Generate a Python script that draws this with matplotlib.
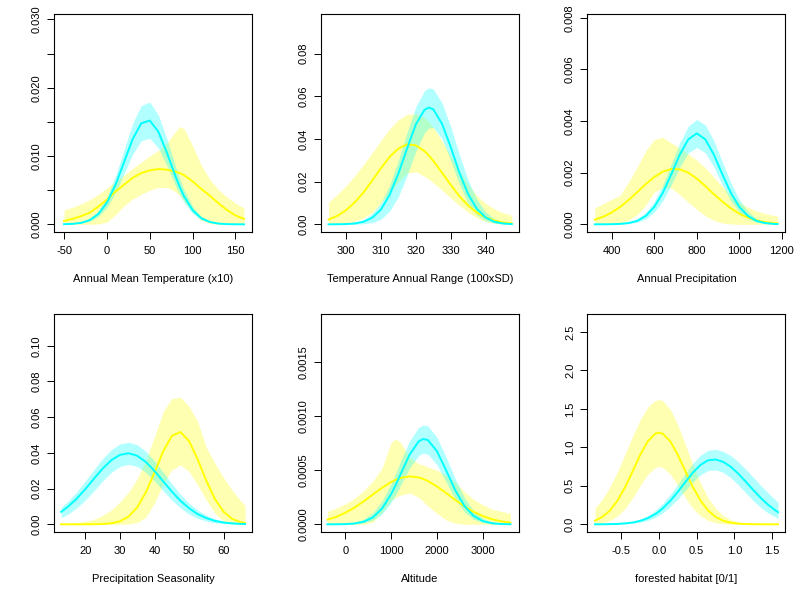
import matplotlib
matplotlib.use("Agg")
import matplotlib.pyplot as plt

plt.rcParams['font.family'] = ['Liberation Sans', 'DejaVu Sans']

# ---------------- data ----------------
# Panel 1: Annual Mean Temperature (x10)
p1_x = [-50, -40, -30, -20, -10, 0, 10, 20, 30, 40, 50, 60, 70, 80, 85, 90, 100, 110, 120, 130, 140, 150, 160]
p1_cyan_mid = [0.00002, 0.00007, 0.00022, 0.00062, 0.00151, 0.00318, 0.00577, 0.0091, 0.01245, 0.01478, 0.0152,
               0.01357, 0.0105, 0.00705, 0.00548, 0.00412, 0.00207, 0.0009, 0.00035, 0.00011, 0.00003, 0.00001, 0.0]
p1_cyan_hi = [0.00003, 0.0001, 0.00031, 0.00083, 0.00195, 0.00396, 0.00704, 0.0109, 0.01476, 0.0174, 0.0179,
              0.016, 0.01253, 0.00855, 0.00668, 0.00508, 0.00263, 0.00119, 0.00047, 0.00016, 0.00005, 0.00001, 0.0]
p1_cyan_lo = [0.00001, 0.00005, 0.00016, 0.00046, 0.00115, 0.00246, 0.00463, 0.00739, 0.01025, 0.01224, 0.01261,
              0.0112, 0.00859, 0.00568, 0.00437, 0.00325, 0.00159, 0.00067, 0.00025, 0.00008, 0.00002, 0.0, 0.0]
p1_yel_mid = [0.00049, 0.0008, 0.0012, 0.0017, 0.0026, 0.0036, 0.0048, 0.0058, 0.0068, 0.0075, 0.0079,
              0.0081, 0.0080, 0.0077, 0.0075, 0.0072, 0.0063, 0.0052, 0.0042, 0.0031, 0.0021, 0.0013, 0.0008]
p1_yel_hi = [0.0021, 0.0025, 0.0030, 0.0036, 0.0044, 0.0053, 0.0063, 0.0072, 0.0082, 0.0091, 0.0100,
             0.0108, 0.0119, 0.0136, 0.0143, 0.0140, 0.0115, 0.0087, 0.0066, 0.0051, 0.0040, 0.0031, 0.0024]
p1_yel_lo = [0, 0, 0, 0, 0.00005, 0.0003, 0.0014, 0.0027, 0.0037, 0.0044, 0.0050,
             0.0054, 0.0054, 0.0048, 0.0042, 0.0034, 0.0018, 0.0006, 0.0001, 0, 0, 0, 0]

# Panel 2: Temperature Annual Range (100xSD)
p2_x = [295, 297.5, 300, 302.5, 305, 307.5, 310, 312.5, 315, 317.5, 320, 322.5, 323.75, 325, 327.5, 330, 332.5,
        335, 337.5, 340, 342.5, 345, 347.5]
p2_cyan_mid = [0.0, 0.00003, 0.00012, 0.0004, 0.0012, 0.0031, 0.0069, 0.0138, 0.0238, 0.0356, 0.0468, 0.0537,
               0.0547, 0.0539, 0.0471, 0.0362, 0.0241, 0.0141, 0.0072, 0.0032, 0.0012, 0.0004, 0.0001]
p2_cyan_hi = [0.00002, 0.00009, 0.00029, 0.00083, 0.0022, 0.0050, 0.0101, 0.0184, 0.0300, 0.0431, 0.0551, 0.0627,
              0.0640, 0.0634, 0.0570, 0.0457, 0.0326, 0.0205, 0.0116, 0.0058, 0.0026, 0.0010, 0.0004]
p2_cyan_lo = [0.0, 0.0, 0.00001, 0.00005, 0.00023, 0.00083, 0.0024, 0.0062, 0.0130, 0.0230, 0.0343, 0.0430,
              0.0451, 0.0454, 0.0401, 0.0299, 0.0187, 0.0098, 0.0043, 0.0016, 0.0005, 0.00013, 0.00003]
p2_yel_mid = [0.0022, 0.0040, 0.0066, 0.0103, 0.0149, 0.0205, 0.0263, 0.0316, 0.0355, 0.0375, 0.0370, 0.0343,
              0.0322, 0.0297, 0.0242, 0.0185, 0.0131, 0.0088, 0.0055, 0.0033, 0.0018, 0.0009, 0.0004]
p2_yel_hi = [0.0104, 0.0140, 0.0180, 0.0228, 0.0280, 0.0335, 0.0393, 0.0447, 0.0490, 0.0515, 0.0518, 0.0500,
             0.0480, 0.0455, 0.0390, 0.0320, 0.0250, 0.0185, 0.0135, 0.0098, 0.0072, 0.0054, 0.0042]
p2_yel_lo = [0.0, 0.0002, 0.0006, 0.0015, 0.0030, 0.0055, 0.0100, 0.0150, 0.0200, 0.0240, 0.0246, 0.0225,
             0.0210, 0.0195, 0.0160, 0.0123, 0.0088, 0.0057, 0.0030, 0.0013, 0.0004, 0.0001, 0.0]

# Panel 3: Annual Precipitation
p3_x = [320, 360, 400, 440, 480, 520, 560, 600, 640, 680, 720, 760, 800, 840, 880, 920, 960, 1000, 1040,
        1080, 1120, 1160, 1180]
p3_cyan_mid = [0.0, 0.0000012, 0.0000046, 0.000017, 0.000051, 0.000136, 0.000326, 0.000673, 0.00122, 0.00194,
               0.0027, 0.00329, 0.00352, 0.00329, 0.0027, 0.00194, 0.00122, 0.000673, 0.000326, 0.000136,
               0.000051, 0.000017, 0.0000092]
p3_cyan_hi = [0.0000007, 0.0000028, 0.0000097, 0.000031, 0.000086, 0.00021, 0.00046, 0.00089, 0.00153, 0.00234,
              0.00316, 0.0038, 0.00406, 0.00385, 0.00324, 0.00242, 0.00161, 0.00095, 0.0005, 0.00023,
              0.000095, 0.000035, 0.00002]
p3_cyan_lo = [0.0, 0.0, 0.0000018, 0.0000075, 0.000026, 0.00008, 0.00021, 0.00047, 0.00091, 0.00153,
              0.00222, 0.00277, 0.00298, 0.00277, 0.00222, 0.00153, 0.00091, 0.00047, 0.00021, 0.00008,
              0.000026, 0.0000075, 0.000004]
p3_yel_mid = [0.000179, 0.000295, 0.00046, 0.000677, 0.000946, 0.00125, 0.00156, 0.00183, 0.00204, 0.00214,
              0.00213, 0.002, 0.00177, 0.00148, 0.00117, 0.00088, 0.00062, 0.00041, 0.00026, 0.00016,
              0.000088, 0.000046, 0.000033]
p3_yel_hi = [0.00064, 0.0008, 0.00097, 0.00113, 0.00165, 0.00222, 0.00285, 0.00328, 0.00337, 0.00315,
             0.00295, 0.00272, 0.00248, 0.00218, 0.00183, 0.00146, 0.00112, 0.00086, 0.00066, 0.00052,
             0.00042, 0.00035, 0.00032]
p3_yel_lo = [0, 0, 0.00002, 0.00006, 0.00016, 0.00038, 0.00075, 0.00125, 0.00142, 0.0014, 0.00115, 0.00085,
             0.00058, 0.00033, 0.00015, 0.00005, 0.00001, 0, 0, 0, 0, 0, 0]

# Panel 4: Precipitation Seasonality
p4_x = [13, 15, 17.5, 20, 22.5, 25, 27.5, 30, 32.5, 35, 37.5, 40, 42.5, 45, 47.5, 50, 52.5, 55, 57.5, 60,
        62.5, 65, 66.2]
p4_cyan_mid = [0.0070, 0.0099, 0.0144, 0.0197, 0.0256, 0.0312, 0.0359, 0.0389, 0.0398, 0.0384, 0.0349, 0.0299,
               0.0241, 0.0184, 0.0132, 0.0090, 0.0057, 0.0035, 0.0019, 0.0010, 0.00053, 0.00025, 0.00017]
p4_cyan_hi = [0.0094, 0.0130, 0.0182, 0.0243, 0.0307, 0.0368, 0.0418, 0.0450, 0.0460, 0.0445, 0.0408, 0.0355,
              0.0292, 0.0228, 0.0168, 0.0118, 0.0079, 0.0050, 0.0030, 0.0017, 0.0009, 0.00046, 0.00032]
p4_cyan_lo = [0.0037, 0.0057, 0.0092, 0.0136, 0.0188, 0.0243, 0.0291, 0.0324, 0.0336, 0.0324, 0.0291, 0.0243,
              0.0188, 0.0136, 0.0092, 0.0057, 0.0033, 0.0018, 0.0009, 0.00042, 0.00018, 0.00007, 0.00005]
p4_yel_mid = [0, 0, 0.0000017, 0.00001, 0.00004, 0.00017, 0.00058, 0.0017, 0.0043, 0.0095, 0.0179, 0.0290,
              0.0408, 0.0495, 0.0517, 0.0466, 0.0363, 0.0243, 0.0141, 0.0070, 0.0030, 0.0011, 0.00066]
p4_yel_hi = [0.0002, 0.0004, 0.0009, 0.0016, 0.0028, 0.0050, 0.0080, 0.0125, 0.0180, 0.0255, 0.0360, 0.0490,
             0.0630, 0.0705, 0.0712, 0.0660, 0.0575, 0.0430, 0.0340, 0.0260, 0.0190, 0.0130, 0.0105]
p4_yel_lo = [0, 0, 0, 0, 0, 0, 0, 0, 0.0002, 0.0010, 0.0040, 0.0120, 0.0225, 0.0305, 0.0333, 0.0295, 0.0220,
             0.0135, 0.0060, 0.0018, 0.0003, 0, 0]

# Panel 5: Altitude
p5_x = [-390, -200, 0, 200, 400, 600, 800, 1000, 1100, 1200, 1400, 1600, 1700, 1800, 2000, 2200, 2400, 2600,
        2800, 3000, 3200, 3400, 3600]
p5_cyan_mid = [0, 0.0000005, 0.0000021, 0.0000078, 0.000024, 0.000064, 0.000145, 0.00028, 0.000366, 0.00046,
               0.000644, 0.000768, 0.00079, 0.00078, 0.000676, 0.000498, 0.000313, 0.000168, 0.000077, 0.00003,
               0.0000099, 0.0000028, 0.0000007]
p5_cyan_hi = [0, 0.0000017, 0.0000057, 0.0000177, 0.000047, 0.000108, 0.000216, 0.000377, 0.000476, 0.000579,
              0.000772, 0.000898, 0.00092, 0.00091, 0.000804, 0.00062, 0.000416, 0.000244, 0.000124, 0.000055,
              0.0000215, 0.0000073, 0.0000021]
p5_cyan_lo = [0, 0, 0.0000008, 0.0000036, 0.0000128, 0.0000386, 0.0000966, 0.000204, 0.000275, 0.000357,
              0.000521, 0.000636, 0.00066, 0.000648, 0.00055, 0.00039, 0.000231, 0.000115, 0.0000467, 0.0000162,
              0.0000046, 0.0000011, 0]
p5_yel_mid = [0.0000436, 0.0000688, 0.000107, 0.000155, 0.000213, 0.000276, 0.000338, 0.000392, 0.000413,
              0.000429, 0.000444, 0.000434, 0.00042, 0.000401, 0.00035, 0.000289, 0.000225, 0.000166, 0.000115,
              0.000076, 0.000047, 0.0000276, 0.0000153]
p5_yel_hi = [0.00012, 0.00015, 0.00019, 0.00024, 0.00031, 0.00040, 0.00052, 0.00076, 0.00079, 0.00076, 0.00062,
             0.00056, 0.00055, 0.00053, 0.00050, 0.00045, 0.00039, 0.00030, 0.00023, 0.00018, 0.00014, 0.00012,
             0.00010]
p5_yel_lo = [0, 0, 0, 0, 0, 0.00002, 0.00011, 0.00022, 0.00025, 0.00027, 0.00029, 0.00025, 0.00021, 0.00017,
             0.0001, 0.00004, 0.00001, 0, 0, 0, 0, 0, 0]

# Panel 6: forested habitat [0/1]
p6_x = [-0.85, -0.75, -0.65, -0.55, -0.45, -0.35, -0.25, -0.15, -0.05, 0.0, 0.05, 0.15, 0.25, 0.35, 0.45, 0.55,
        0.65, 0.75, 0.85, 0.95, 1.05, 1.15, 1.25, 1.35, 1.45, 1.55, 1.58]
p6_yel_mid = [0.047, 0.097, 0.181, 0.310, 0.483, 0.689, 0.901, 1.077, 1.177, 1.19, 1.177, 1.077, 0.901, 0.689,
              0.483, 0.310, 0.181, 0.097, 0.047, 0.021, 0.0088, 0.0033, 0.0011, 0.0004, 0.0001, 0, 0]
p6_yel_hi = [0.211, 0.329, 0.489, 0.687, 0.914, 1.145, 1.358, 1.520, 1.608, 1.62, 1.605, 1.492, 1.289, 1.035,
             0.773, 0.536, 0.346, 0.208, 0.116, 0.060, 0.029, 0.0128, 0.0053, 0.002, 0.0007, 0.0002, 0.0002]
p6_yel_lo = [0.0074, 0.0207, 0.0507, 0.110, 0.206, 0.343, 0.503, 0.649, 0.738, 0.75, 0.738, 0.649, 0.503, 0.343,
             0.206, 0.110, 0.0507, 0.0207, 0.0074, 0.0024, 0.0007, 0, 0, 0, 0, 0, 0]
p6_cyan_mid = [0.0004, 0.001, 0.0024, 0.0055, 0.0117, 0.0235, 0.0446, 0.0795, 0.132, 0.167, 0.208, 0.306, 0.423,
               0.550, 0.672, 0.771, 0.831, 0.842, 0.812, 0.749, 0.660, 0.555, 0.447, 0.343, 0.252, 0.177, 0.158]
p6_cyan_hi = [0.0009, 0.0021, 0.0048, 0.0102, 0.020, 0.038, 0.068, 0.114, 0.181, 0.224, 0.273, 0.388, 0.522,
              0.661, 0.793, 0.898, 0.961, 0.974, 0.948, 0.893, 0.814, 0.718, 0.613, 0.506, 0.405, 0.312, 0.287]
p6_cyan_lo = [0, 0.0004, 0.0011, 0.0027, 0.0062, 0.0134, 0.0275, 0.0517, 0.091, 0.118, 0.150, 0.231, 0.330,
              0.442, 0.552, 0.643, 0.698, 0.708, 0.675, 0.607, 0.513, 0.410, 0.308, 0.218, 0.146, 0.092, 0.078]

x_labels = ["Annual Mean Temperature (x10)", "Temperature Annual Range (100xSD)", "Annual Precipitation",
            "Precipitation Seasonality", "Altitude", "forested habitat [0/1]"]

x_ticks = [[-50, 0, 50, 100, 150], [300, 310, 320, 330, 340], [400, 600, 800, 1000, 1200],
           [20, 30, 40, 50, 60], [0, 1000, 2000, 3000], [-0.5, 0.0, 0.5, 1.0, 1.5]]
x_tick_labels = [["-50", "0", "50", "100", "150"], ["300", "310", "320", "330", "340"],
                 ["400", "600", "800", "1000", "1200"], ["20", "30", "40", "50", "60"],
                 ["0", "1000", "2000", "3000"], ["-0.5", "0.0", "0.5", "1.0", "1.5"]]
y_ticks = [[0.0, 0.005, 0.010, 0.015, 0.020, 0.025, 0.030], [0.0, 0.02, 0.04, 0.06, 0.08],
           [0.0, 0.002, 0.004, 0.006, 0.008], [0.0, 0.02, 0.04, 0.06, 0.08, 0.10],
           [0.0, 0.0005, 0.0010, 0.0015], [0.0, 0.5, 1.0, 1.5, 2.0, 2.5]]
y_tick_labels = [["0.000", "", "0.010", "", "0.020", "", "0.030"], ["0.00", "0.02", "0.04", "0.06", "0.08"],
                 ["0.000", "0.002", "0.004", "0.006", "0.008"], ["0.00", "0.02", "0.04", "0.06", "0.08", "0.10"],
                 ["0.0000", "0.0005", "0.0010", "0.0015"], ["0.0", "0.5", "1.0", "1.5", "2.0", "2.5"]]

x_limits = [(-61.7, 169.3), (292.77, 349.5), (285.4, 1217.0), (10.93, 68.2), (-535.0, 3783.0), (-0.95, 1.678)]
y_limits = [(-0.00117, 0.03075), (-0.00375, 0.0984), (-0.00031, 0.00813), (-0.00448, 0.1176),
            (-0.000074, 0.001944), (-0.104, 2.727)]

panels = [
    (p1_x, p1_cyan_mid, p1_cyan_lo, p1_cyan_hi, p1_yel_mid, p1_yel_lo, p1_yel_hi),
    (p2_x, p2_cyan_mid, p2_cyan_lo, p2_cyan_hi, p2_yel_mid, p2_yel_lo, p2_yel_hi),
    (p3_x, p3_cyan_mid, p3_cyan_lo, p3_cyan_hi, p3_yel_mid, p3_yel_lo, p3_yel_hi),
    (p4_x, p4_cyan_mid, p4_cyan_lo, p4_cyan_hi, p4_yel_mid, p4_yel_lo, p4_yel_hi),
    (p5_x, p5_cyan_mid, p5_cyan_lo, p5_cyan_hi, p5_yel_mid, p5_yel_lo, p5_yel_hi),
    (p6_x, p6_cyan_mid, p6_cyan_lo, p6_cyan_hi, p6_yel_mid, p6_yel_lo, p6_yel_hi),
]

# ---------------- layout / style ----------------
fig = plt.figure(figsize=(8, 6), dpi=100)
lefts = [0.0675, 0.401, 0.7343]
bottoms = [0.6128, 0.1128]
W, H = 0.2475, 0.3633

CYAN = "#00FFFF"
YEL = "#FFFF00"
FS = 8.0

for i, (x, cm, cl, ch, ym, yl, yh) in enumerate(panels):
    r, c = divmod(i, 3)
    ax = fig.add_axes([lefts[c], bottoms[r], W, H])
    ax.fill_between(x, yl, yh, color=YEL, alpha=0.3, linewidth=0)
    ax.fill_between(x, cl, ch, color=CYAN, alpha=0.3, linewidth=0)
    ax.plot(x, ym, color=YEL, lw=1.4, solid_joinstyle='round')
    ax.plot(x, cm, color=CYAN, lw=1.4, solid_joinstyle='round')
    ax.set_xlim(*x_limits[i])
    ax.set_ylim(*y_limits[i])
    ax.set_xticks(x_ticks[i])
    ax.set_xticklabels(x_tick_labels[i])
    ax.set_yticks(y_ticks[i])
    ax.set_yticklabels(y_tick_labels[i], rotation=90, va='center')
    ax.tick_params(direction='out', length=5, width=0.7, labelsize=FS, pad=5)
    ax.tick_params(axis='y', pad=4)
    for s in ax.spines.values():
        s.set_linewidth(0.8)
    ax.set_xlabel(x_labels[i], fontsize=FS, va='center')
    ax.xaxis.set_label_coords(0.5, -0.216)

fig.savefig("out.png", dpi=100)
